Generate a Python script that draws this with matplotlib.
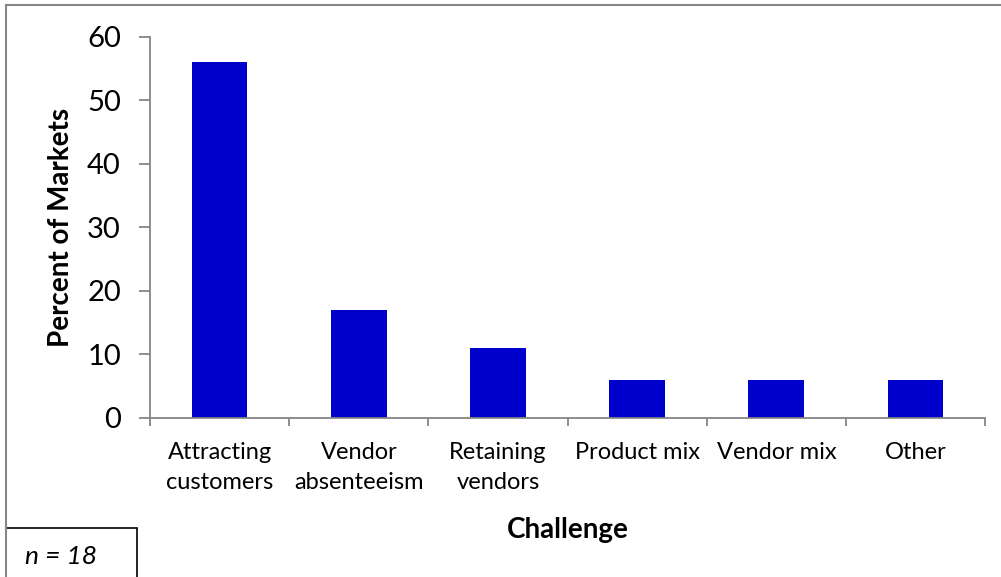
import matplotlib.pyplot as plt
from matplotlib.lines import Line2D
from matplotlib.patches import Rectangle

# survey results: share of markets citing each challenge
challenges = ["Attracting\ncustomers", "Vendor\nabsenteeism", "Retaining\nvendors",
              "Product mix", "Vendor mix", "Other"]
percent = [56, 17, 11, 6, 6, 6]
yticks = [0, 10, 20, 30, 40, 50, 60]

bar_color = "#0000CC"
axis_color = "#868686"
font = ["Lato", "DejaVu Sans"]

fig = plt.figure(figsize=(10.01, 5.77), dpi=100)
ax = fig.add_axes([0.1499, 0.2756, 0.8342, 0.6603])

x = range(len(challenges))
ax.bar(x, percent, width=0.4, color=bar_color)

ax.set_xlim(-0.5, len(challenges) - 0.5)
ax.set_ylim(0, 60)
ax.set_yticks(yticks)
ax.set_yticklabels([str(v) for v in yticks], fontsize=21, family=font)

# category labels centred, ticks on the boundaries
ax.set_xticks(list(x))
ax.set_xticklabels(challenges, fontsize=17, family=font, linespacing=1.55)
ax.tick_params(axis="x", length=0, pad=17)
ax.set_xticks([i - 0.5 for i in range(len(challenges) + 1)], minor=True)
ax.tick_params(axis="x", which="minor", length=6, color=axis_color, width=1.3, direction="out")
ax.tick_params(axis="y", length=8, color=axis_color, width=1.3, direction="out", pad=13)

for side in ["top", "right"]:
    ax.spines[side].set_visible(False)
for side in ["left", "bottom"]:
    ax.spines[side].set_color(axis_color)
    ax.spines[side].set_linewidth(1.3)

ax.set_ylabel("Percent of Markets", fontsize=20, fontweight="bold", family=font, va="center")
ax.yaxis.set_label_coords(-0.1066, 0.5)
ax.set_xlabel("Challenge", fontsize=20, fontweight="bold", family=font, va="center")
ax.xaxis.set_label_coords(0.5, -0.294)

# chart frame (top and left edges)
fig.add_artist(Line2D([0.0055, 0.0055], [0, 0.9922], transform=fig.transFigure,
                      color=axis_color, linewidth=1.5))
fig.add_artist(Line2D([0.0055, 1.0], [0.9922, 0.9922], transform=fig.transFigure,
                      color=axis_color, linewidth=1.5))

# sample size box
fig.add_artist(Rectangle((0.0055, -0.01), 0.131, 0.095, transform=fig.transFigure,
                         facecolor="white", edgecolor="black", linewidth=1.2))
fig.text(0.025, 0.035, "n = 18", fontsize=19, style="italic", family=font,
         va="center", ha="left")

fig.savefig("out.png", dpi=100)
